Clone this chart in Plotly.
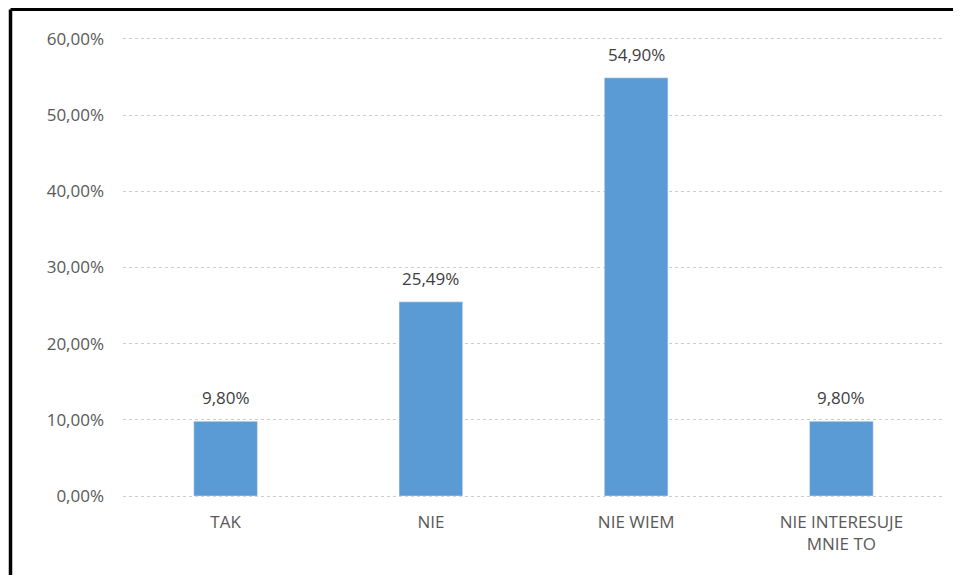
import plotly.graph_objects as go

categories = ["TAK", "NIE", "NIE WIEM", "NIE INTERESUJE<br>MNIE TO"]
shares = [0.098, 0.2549, 0.549, 0.098]

# page has an 8px body margin, so the figure is kept inside the window
W, H = 945, 567
L, R, T, B = 115, 9, 29, 77
pw, ph = W - L - R, H - T - B

FONT = "Open Sans, sans-serif"

fig = go.Figure(
    go.Bar(
        x=categories,
        y=shares,
        marker_color="#5B9BD5",
        width=0.31,
        hoverinfo="x+y",
    )
)

# value labels above the bars, Polish decimal comma
for cat, val in zip(categories, shares):
    fig.add_annotation(
        x=cat,
        y=val,
        text=f"{val * 100:.2f}%".replace(".", ","),
        showarrow=False,
        yanchor="bottom",
        yshift=10,
        font=dict(family=FONT, size=17, color="#404040"),
    )

fig.update_layout(
    width=W,
    height=H,
    margin=dict(l=L, r=R, t=T, b=B),
    paper_bgcolor="white",
    plot_bgcolor="white",
    separators=", ",
    font=dict(family=FONT, size=17, color="#595959"),
    showlegend=False,
)
fig.update_yaxes(
    range=[-0.0026, 0.6026],
    tickvals=[0, 0.1, 0.2, 0.3, 0.4, 0.5, 0.6],
    tickformat=".2%",
    showgrid=True,
    gridcolor="#cccccc",
    griddash="dot",
    gridwidth=1,
    zeroline=False,
    showline=False,
    ticklabelstandoff=18,
)
fig.update_xaxes(
    showline=False,
    ticks="",
    ticklabelstandoff=12,
)

# black frame along the left and top edges
fx = (2.5 - L) / pw
fy = 1 + (T - 1.5) / ph
fig.add_shape(type="line", xref="paper", yref="paper", x0=fx, x1=fx, y0=fy, y1=-0.3,
              line=dict(color="black", width=3.5))
fig.add_shape(type="line", xref="paper", yref="paper", x0=fx, x1=1.05, y0=fy, y1=fy,
              line=dict(color="black", width=3))

fig.write_html("out.html")
